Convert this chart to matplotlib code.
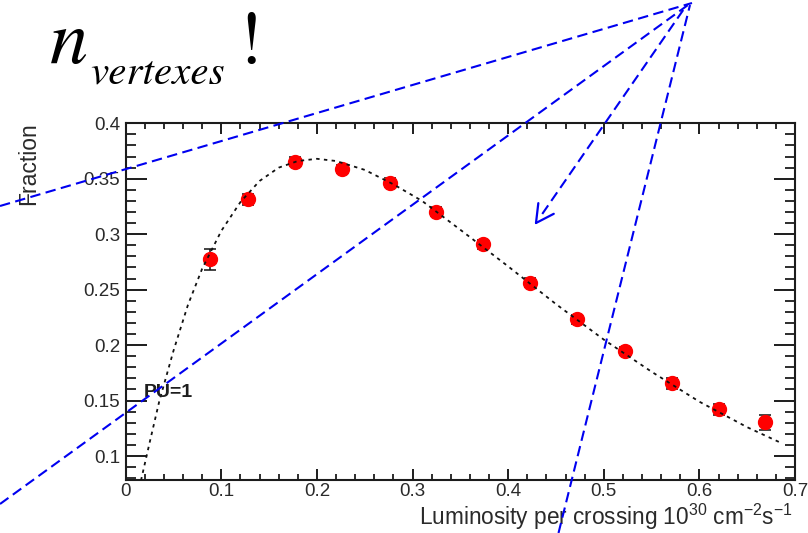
import numpy as np
import matplotlib
matplotlib.use("Agg")
import matplotlib.pyplot as plt
from matplotlib.font_manager import FontProperties
from matplotlib.ticker import MultipleLocator, FixedLocator

plt.rcParams['font.family'] = ['Liberation Sans', 'DejaVu Sans']
plt.rcParams['mathtext.fontset'] = 'custom'
plt.rcParams['mathtext.rm'] = 'Liberation Sans'
plt.rcParams['mathtext.it'] = 'Liberation Sans:italic'
plt.rcParams['mathtext.bf'] = 'Liberation Sans:bold'

# Measured fraction of events with exactly one vertex (PU=1)
lumi = [0.088, 0.128, 0.177, 0.226, 0.276, 0.325, 0.374, 0.423, 0.472, 0.522, 0.571, 0.620, 0.669]
frac = [0.2776, 0.3315, 0.3654, 0.3588, 0.3465, 0.3203, 0.2909, 0.2563, 0.2235, 0.1947, 0.1655, 0.1421, 0.1304]
frac_err = [0.0095, 0.005, 0.004, 0.004, 0.004, 0.004, 0.004, 0.004, 0.004, 0.004, 0.005, 0.005, 0.0065]

# Fitted curve
fit_x = [0.016, 0.025, 0.035, 0.05, 0.065, 0.08, 0.10, 0.12, 0.14, 0.16, 0.18, 0.20, 0.22,
         0.25, 0.28, 0.31, 0.35, 0.40, 0.45, 0.50, 0.55, 0.60, 0.65, 0.685]
fit_y = [0.078, 0.112, 0.149, 0.195, 0.236, 0.269, 0.303, 0.329, 0.348, 0.360, 0.366, 0.368, 0.366,
         0.358, 0.345, 0.330, 0.304, 0.271, 0.237, 0.205, 0.176, 0.149, 0.126, 0.112]

x_ticks = [0, 0.1, 0.2, 0.3, 0.4, 0.5, 0.6, 0.7]
x_ticklabels = ["0", "0.1", "0.2", "0.3", "0.4", "0.5", "0.6", "0.7"]
y_ticks = [0.1, 0.15, 0.2, 0.25, 0.3, 0.35, 0.4]
y_ticklabels = ["0.1", "0.15", "0.2", "0.25", "0.3", "0.35", "0.4"]

W, H = 808, 533
fig = plt.figure(figsize=(W / 100, H / 100), dpi=100)
fig.patch.set_facecolor('white')

ax = fig.add_axes([125.7 / W, 1 - 480 / H, (795 - 125.7) / W, (480 - 123.3) / H])
ax.set_xlim(0, 0.7)
ax.set_ylim(0.0784, 0.4)

axis_col = '#1c1c1c'
text_col = '#2a2a2a'
for s in ax.spines.values():
    s.set_linewidth(1.5)
    s.set_color(axis_col)

ax.xaxis.set_major_locator(FixedLocator(x_ticks))
ax.set_xticklabels(x_ticklabels)
ax.xaxis.set_minor_locator(MultipleLocator(0.02))
ax.yaxis.set_major_locator(FixedLocator(y_ticks))
ax.set_yticklabels(y_ticklabels)
ax.yaxis.set_minor_locator(MultipleLocator(0.01))

ax.tick_params(axis='x', which='major', direction='in', length=8, width=1.4,
               top=True, bottom=True, color=axis_col, labelsize=13.5, labelcolor=text_col, pad=2)
ax.tick_params(axis='x', which='minor', direction='in', length=4.3, width=1.3,
               top=True, bottom=True, color=axis_col)
ax.tick_params(axis='y', which='major', direction='in', length=15, width=1.4,
               left=True, right=True, color=axis_col, labelsize=13.5, labelcolor=text_col, pad=4)
ax.tick_params(axis='y', which='minor', direction='in', length=7, width=1.3,
               left=True, right=True, color=axis_col)

ax.errorbar(lumi, frac, yerr=frac_err, fmt='o', color='#ff0000', ms=10, mec='#ff0000',
            ecolor='#111111', elinewidth=1.1, capsize=4, capthick=1.1, zorder=3)
ax.plot(fit_x, fit_y, color='#111111', lw=1.3, dashes=(1.9, 2.4), zorder=4)

ax.text(0.0186, 0.157, 'PU=1', fontsize=14, fontweight='bold', color='#1e1e1e',
        va='center', ha='left', zorder=5)

fig.text(29 / W, 1 - 122 / H, 'Fraction', rotation=90, ha='center', va='top',
         fontsize=16.5, color=text_col)
fig.text(793 / W, 1 - 524.5 / H,
         r'Luminosity per crossing 10$^{30}$ cm$^{-2}$s$^{-1}$',
         ha='right', va='baseline', fontsize=16.3, color=text_col)

# Title in a Times-like face (STIX ships with matplotlib)
it_fp = FontProperties(family='STIXGeneral', style='italic')
rm_fp = FontProperties(family='STIXGeneral', style='normal')
fig.text(50 / W, 1 - 63 / H, 'n', fontproperties=it_fp, fontsize=55,
         ha='left', va='baseline', color='black')
fig.text(90 / W, 1 - 84 / H, 'vertexes', fontproperties=it_fp, fontsize=29.5,
         ha='left', va='baseline', color='black')
fig.text(237 / W, 1 - 63 / H, '!', fontproperties=rm_fp, fontsize=54,
         ha='left', va='baseline', color='black')

# Hand-drawn blue dashed pointers over the figure
ov = fig.add_axes([0, 0, 1, 1], zorder=10)
ov.set_xlim(0, W)
ov.set_ylim(H, 0)
ov.axis('off')
ov.patch.set_alpha(0)

blue = '#0000f0'
pointers = [((0, 206), (692, 3)),
            ((0, 504), (688, 5)),
            ((558.5, 533), (690, 5))]
for (x0, y0), (x1, y1) in pointers:
    ov.plot([x0, x1], [y0, y1], color=blue, lw=1.5, dashes=(5, 2.6), solid_capstyle='butt')

tip = np.array([536.0, 223.0])
tail = np.array([686.0, 6.0])
start = tip + (tail - tip) / np.linalg.norm(tail - tip) * 11
ov.plot([start[0], tail[0]], [start[1], tail[1]], color=blue, lw=1.5, dashes=(5, 2.6))
u = (tail - tip) / np.linalg.norm(tail - tip)
for ang in (28, -28):
    a = np.deg2rad(ang)
    rot = np.array([[np.cos(a), -np.sin(a)], [np.sin(a), np.cos(a)]])
    end = tip + rot @ u * 20
    ov.plot([tip[0], end[0]], [tip[1], end[1]], color=blue, lw=1.6, solid_capstyle='round')

fig.savefig('out.png', dpi=100)
